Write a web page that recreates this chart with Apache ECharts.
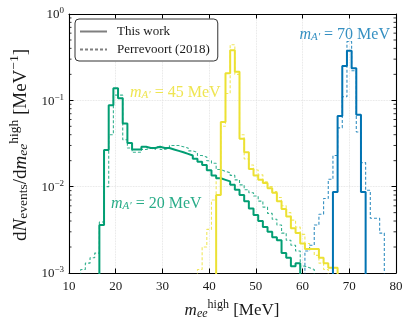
<!DOCTYPE html>
<html><head><meta charset="utf-8">
<script src="https://cdn.jsdelivr.net/npm/echarts@6/dist/echarts.min.js"></script>
<style>html,body{margin:0;padding:0;background:#fff}#c{width:412px;height:328px}</style>
</head><body><div id="c"></div>
<script>
// ---------------- data ----------------
const BIN_WIDTH = 1; // MeV
const xTickValues = [10, 20, 30, 40, 50, 60, 70, 80];
const yMinorTicks = [0.002,0.003,0.004,0.005,0.006,0.007,0.008,0.009,
                     0.02,0.03,0.04,0.05,0.06,0.07,0.08,0.09,
                     0.2,0.3,0.4,0.5,0.6,0.7,0.8,0.9];

// m_A' = 20 MeV
const green20Start = 16.5;
const green20This = [0.0036,0.0266,0.088,0.138,0.106,0.054,0.032,0.027,0.027,0.029,
  0.028,0.028,0.029,0.028,0.028,0.027,0.026,0.025,0.024,0.023,
  0.021,0.0195,0.0178,0.0155,0.0135,0.0125,0.012,0.0115,0.0105,0.0092,
  0.008,0.0068,0.0056,0.0047,0.004,0.0034,0.003,0.0026,0.0024,0.0017,
  0.0015,0.0012,0.0013];
const green20PrevStart = 12.5;
const green20Prev = [0.0011,0.0013,0.0015,0.0017,0.0039,0.010,0.040,0.115,0.115,0.035,
  0.028,0.025,0.025,0.027,0.028,0.027,0.029,0.027,0.028,0.030,
  0.030,0.029,0.028,0.026,0.025,0.023,0.022,0.020,0.0187,0.0158,
  0.015,0.0145,0.0135,0.012,0.0105,0.0092,0.0085,0.0078,0.0068,0.0058,
  0.0049,0.0042,0.0036,0.0029,0.0024,0.0021,0.0018,0.0012,0.00115,0.0011];

// m_A' = 45 MeV
const yellow45Start = 41.5;
const yellow45This = [0.008,0.056,0.206,0.38,0.215,0.036,0.025,0.016,0.0135,0.012,
  0.011,0.0096,0.0085,0.0068,0.0055,0.0045,0.0033,0.0029,0.0022,0.0019,
  0.0019,0.0019,0.0015,0.0013,0.00115,0.00115];
const yellow45PrevStart = 37.5;
const yellow45Prev = [0.0011,0.002,0.0032,0.007,0.0125,0.05,0.12,0.44,0.2,0.04,
  0.021,0.0178,0.0156,0.0137,0.0114,0.010,0.0088,0.0075,0.006,0.005,
  0.0041,0.0034,0.0028,0.0022,0.0019,0.0016,0.0013,0.0011];

// m_A' = 70 MeV
const blue70Start = 66.5;
const blue70This = [0.0087,0.066,0.25,0.376,0.235,0.068,0.0087];
const blue70PrevStart = 60.5;
const blue70Prev = [0.0018,0.0021,0.0036,0.0048,0.0073,0.0122,0.023,0.048,0.11,0.48,
  0.22,0.043,0.019,0.0091,0.0043,0.0043,0.0029];

// ---------------- helpers ----------------
const FLOOR = 1e-5; // below axis minimum: the histogram edges drop out of the frame
function histSteps(start, vals) {
  const pts = [[start, FLOOR]];
  vals.forEach((v, i) => {
    const lo = start + i * BIN_WIDTH, hi = lo + BIN_WIDTH;
    pts.push([lo, v], [hi, v]);
  });
  pts.push([start + vals.length * BIN_WIDTH, FLOOR]);
  return pts;
}
const SERIF = '"Liberation Serif", "DejaVu Serif", serif';
const C_GREEN = '#029e73', C_YELLOW = '#ece133', C_BLUE = '#0173b2';
const TXT = '#1a1a1a';

function richFor(base, small) {
  return {
    r:  {fontFamily: SERIF, fontSize: base, lineHeight: base + 4, verticalAlign: 'bottom'},
    mi: {fontFamily: SERIF, fontSize: base, lineHeight: base + 4, verticalAlign: 'bottom', fontStyle: 'italic'},
    sb: {fontFamily: SERIF, fontSize: small, lineHeight: small, verticalAlign: 'bottom'},
    sbi:{fontFamily: SERIF, fontSize: small, lineHeight: small, verticalAlign: 'bottom', fontStyle: 'italic'},
    sp: {fontFamily: SERIF, fontSize: small, lineHeight: small, verticalAlign: 'top'}
  };
}

function solid(name, color, pts) {
  return {type: 'line', name, data: pts, symbol: 'none', showSymbol: false, z: 3,
    lineStyle: {color, width: 2}, itemStyle: {color}, emphasis: {disabled: true}};
}
function dashed(name, color, pts) {
  return {type: 'line', name, data: pts, symbol: 'none', showSymbol: false, z: 2,
    lineStyle: {color, width: 1.1, type: [3, 2], opacity: 0.8}, itemStyle: {color}, emphasis: {disabled: true}};
}

const chart = echarts.init(document.getElementById('c'), null, {renderer: 'canvas'});

const axisLineStyle = {color: '#000', width: 1.1};
const option = {
  animation: false,
  backgroundColor: '#fff',
  grid: {left: 69, top: 14, width: 327, height: 259, containLabel: false, outerBoundsMode: 'none'},
  legend: {
    data: ['This work', 'Perrevoort (2018)'],
    orient: 'vertical', left: 75, top: 19,
    padding: [6, 8, 5, 4], itemGap: 5, itemWidth: 27, itemHeight: 12,
    borderColor: '#333', borderWidth: 1, borderRadius: 4, backgroundColor: '#fff',
    selectedMode: false,
    itemStyle: {opacity: 0, borderWidth: 0},
    textStyle: {fontFamily: SERIF, fontSize: 13, color: TXT, padding: [0, 0, 0, 5]}
  },
  xAxis: [
    {type: 'value', min: 10, max: 80, interval: 10, position: 'bottom',
     axisLine: {show: true, onZero: false, lineStyle: axisLineStyle},
     axisTick: {show: true, inside: true, length: 4.5, lineStyle: {color: '#000', width: 1}},
     axisLabel: {color: TXT, fontFamily: SERIF, fontSize: 13, margin: 7,
       customValues: xTickValues},
     splitLine: {show: true, lineStyle: {color: '#dddddd', type: 'dotted', width: 0.8}}},
    {type: 'value', min: 10, max: 80, interval: 10, position: 'top',
     axisLine: {show: true, onZero: false, lineStyle: axisLineStyle},
     axisTick: {show: true, inside: true, length: 4.5, lineStyle: {color: '#000', width: 1}},
     axisLabel: {show: false}, splitLine: {show: false}}
  ],
  yAxis: [
    {type: 'log', logBase: 10, min: 0.001, max: 1, position: 'left',
     axisLine: {show: true, onZero: false, lineStyle: axisLineStyle},
     axisTick: {show: true, inside: true, length: 4.5, lineStyle: {color: '#000', width: 1}},
     axisLabel: {color: TXT, margin: 5,
       formatter: v => {
         const e = Math.round(Math.log10(v));
         return '{b|10}{s|' + (e < 0 ? '\u2212' + (-e) : String(e)) + '}';
       },
       rich: {
         b: {fontFamily: SERIF, fontSize: 13, lineHeight: 15, verticalAlign: 'bottom', color: TXT},
         s: {fontFamily: SERIF, fontSize: 9, lineHeight: 9, verticalAlign: 'top', color: TXT}
       }},
     splitLine: {show: true, lineStyle: {color: '#dddddd', type: 'dotted', width: 0.8}}},
    {type: 'log', logBase: 10, min: 0.001, max: 1, position: 'right',
     axisLine: {show: true, onZero: false, lineStyle: axisLineStyle},
     axisTick: {show: true, inside: true, length: 4.5, lineStyle: {color: '#000', width: 1}},
     axisLabel: {show: false}, splitLine: {show: false}}
  ],
  series: [
    dashed('g20p', C_GREEN, histSteps(green20PrevStart, green20Prev)),
    dashed('y45p', C_YELLOW, histSteps(yellow45PrevStart, yellow45Prev)),
    dashed('b70p', C_BLUE, histSteps(blue70PrevStart, blue70Prev)),
    solid('g20', C_GREEN, histSteps(green20Start, green20This)),
    solid('y45', C_YELLOW, histSteps(yellow45Start, yellow45This)),
    solid('b70', C_BLUE, histSteps(blue70Start, blue70This)),
    {type: 'line', name: 'This work', data: [], symbol: 'none', color: '#7f7f7f',
     lineStyle: {color: '#7f7f7f', width: 2}},
    {type: 'line', name: 'Perrevoort (2018)', data: [], symbol: 'none', color: '#7f7f7f',
     lineStyle: {color: '#7f7f7f', width: 1.1, type: [3, 2]}},
    {type: 'custom', name: 'minorTicks', silent: true, z: 10, clip: false,
     data: yMinorTicks.map(v => [10, v]),
     renderItem: (params, api) => {
       const v = api.value(1);
       const pL = api.coord([10, v]);
       const pR = api.coord([80, v]);
       return {type: 'group', children: [
         {type: 'line', shape: {x1: pL[0], y1: pL[1], x2: pL[0] + 2.5, y2: pL[1]}, style: {stroke: '#000', lineWidth: 0.8}},
         {type: 'line', shape: {x1: pR[0], y1: pR[1], x2: pR[0] - 2.5, y2: pR[1]}, style: {stroke: '#000', lineWidth: 0.8}}
       ]};
     }}
  ],
  graphic: [
    {type: 'text', x: 19, y: 145, rotation: Math.PI / 2, z: 100,
     style: {text: '{r|d}{mi|N}{sb|events}{r|/d}{mi|m}{sbi|ee}{sp|high}{r| [MeV}{sp|\u22121}{r|]}',
       rich: richFor(19, 13.5), fill: TXT, align: 'center', verticalAlign: 'middle'}},
    {type: 'text', x: 232, y: 309, z: 100,
     style: {text: '{mi|m}{sbi|ee}{sp|high}{r| [MeV]}',
       rich: richFor(17, 12), fill: TXT, align: 'center', verticalAlign: 'middle'}},
    {type: 'text', x: 390, y: 33, z: 100,
     style: {text: '{mi|m}{sbi|A\u2032}{r| = 70 MeV}', rich: richFor(16, 11),
       fill: C_BLUE, opacity: 0.8, align: 'right', verticalAlign: 'middle'}},
    {type: 'text', x: 130, y: 91, z: 100,
     style: {text: '{mi|m}{sbi|A\u2032}{r| = 45 MeV}', rich: richFor(16, 11),
       fill: C_YELLOW, opacity: 0.85, align: 'left', verticalAlign: 'middle'}},
    {type: 'text', x: 111, y: 202, z: 100,
     style: {text: '{mi|m}{sbi|A\u2032}{r| = 20 MeV}', rich: richFor(16, 11),
       fill: C_GREEN, opacity: 0.85, align: 'left', verticalAlign: 'middle'}}
  ]
};
chart.setOption(option);
</script></body></html>
